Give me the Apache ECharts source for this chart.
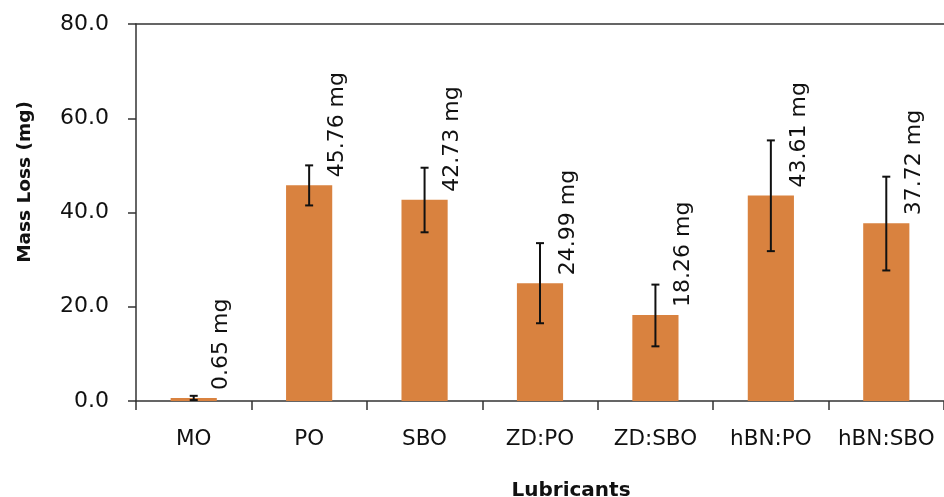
<!DOCTYPE html>
<html>
<head>
<meta charset="utf-8">
<script src="https://cdn.jsdelivr.net/npm/echarts@6/dist/echarts.min.js"></script>
<style>
  html, body { margin: 0; padding: 0; background: #fff; }
  #chart { width: 944px; height: 497px; }
</style>
</head>
<body>
<div id="chart"></div>
<script>
// lubricants on the x axis
const categories = ['MO', 'PO', 'SBO', 'ZD:PO', 'ZD:SBO', 'hBN:PO', 'hBN:SBO'];
// mass loss (mg)
const massLoss = [0.65, 45.76, 42.73, 24.99, 18.26, 43.61, 37.72];
// error bar ends
const errLow = [0.2, 41.5, 35.8, 16.5, 11.6, 31.8, 27.7];
const errHigh = [1.1, 50.0, 49.5, 33.5, 24.7, 55.3, 47.6];
const yTicks = [0, 20, 40, 60, 80];

const font = 'DejaVu Sans';
const errData = categories.map((c, i) => [i, errLow[i], errHigh[i]]);

const chart = echarts.init(document.getElementById('chart'));
chart.setOption({
  animation: false,
  textStyle: { fontFamily: font },
  grid: { left: 136, top: 24, width: 814, bottom: 96 },
  title: [{
    text: 'Lubricants', left: 566, top: 476, textAlign: 'center',
    textStyle: { fontFamily: font, fontSize: 20, fontWeight: 'bold', color: '#111' }
  }],
  graphic: [{
    type: 'text', x: 25, y: 182, rotation: Math.PI / 2,
    style: {
      text: 'Mass Loss (mg)', font: 'bold 18.5px "DejaVu Sans"', fill: '#111',
      align: 'center', verticalAlign: 'middle'
    }
  }],
  xAxis: [{
    type: 'category',
    data: categories,
    axisLine: { lineStyle: { color: '#333', width: 1.5 } },
    axisTick: { show: true, interval: 0, length: 9, lineStyle: { color: '#333', width: 1.5 } },
    axisLabel: { interval: 0, fontSize: 21.5, color: '#111', margin: 27 }
  }, {
    type: 'category', position: 'top', data: categories,
    axisLine: { lineStyle: { color: '#333', width: 1.5 } },
    axisTick: { show: false }, axisLabel: { show: false }
  }],
  yAxis: {
    type: 'value', min: yTicks[0], max: yTicks[yTicks.length - 1], interval: 20,
    axisLine: { show: true, lineStyle: { color: '#333', width: 1.5 } },
    axisTick: { show: true, length: 8, lineStyle: { color: '#333', width: 1.5 } },
    splitLine: { show: false },
    axisLabel: { fontSize: 22, color: '#111', margin: 27, formatter: v => v.toFixed(1) }
  },
  series: [{
    type: 'bar',
    data: massLoss,
    barWidth: '40%',
    itemStyle: { color: '#D9823F' },
    label: {
      show: true, position: 'top', rotate: 90,
      align: 'left', verticalAlign: 'middle',
      offset: [3, 28],
      fontSize: 22, color: '#111', fontFamily: font,
      formatter: p => p.value.toFixed(2) + ' mg'
    }
  }, {
    type: 'custom',
    data: errData,
    z: 5,
    renderItem: (params, api) => {
      const x = api.value(0);
      const lo = api.coord([x, api.value(1)]);
      const hi = api.coord([x, api.value(2)]);
      const w = 4;
      const st = { stroke: '#111', lineWidth: 2 };
      return {
        type: 'group',
        children: [
          { type: 'line', shape: { x1: lo[0], y1: lo[1], x2: hi[0], y2: hi[1] }, style: st },
          { type: 'line', shape: { x1: lo[0] - w, y1: lo[1], x2: lo[0] + w, y2: lo[1] }, style: st },
          { type: 'line', shape: { x1: hi[0] - w, y1: hi[1], x2: hi[0] + w, y2: hi[1] }, style: st }
        ]
      };
    }
  }]
});
</script>
</body>
</html>
